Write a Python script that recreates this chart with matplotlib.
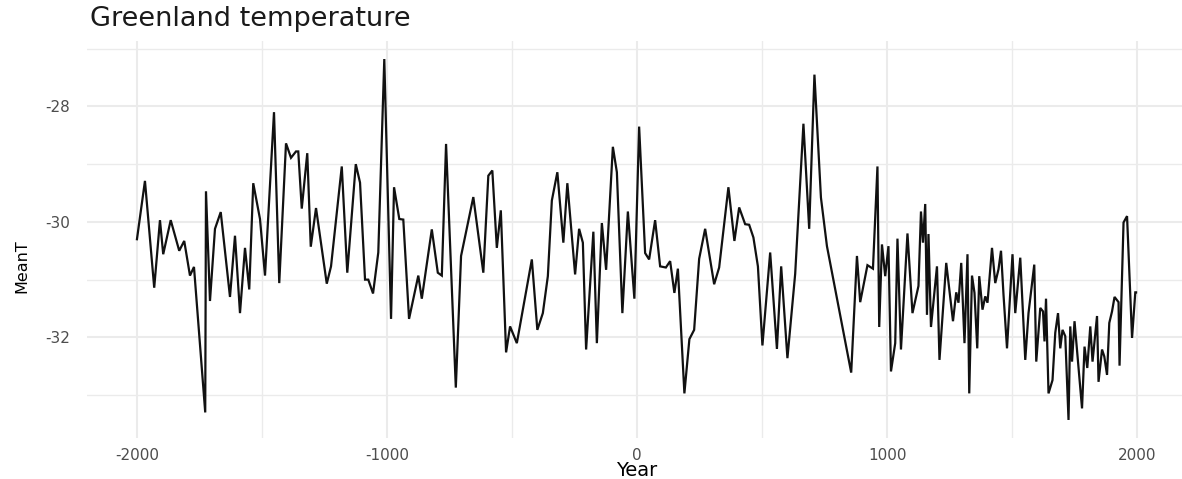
import matplotlib
matplotlib.use("Agg")
import matplotlib.pyplot as plt
from matplotlib.ticker import MultipleLocator
import numpy as np

years = [-2000, -1968, -1931, -1908, -1895, -1865, -1831, -1811, -1788, -1772,
         -1727, -1724, -1708, -1688, -1665, -1628, -1608, -1588, -1568, -1551,
         -1535, -1508, -1488, -1452, -1431, -1404, -1384, -1364, -1355, -1341,
         -1319, -1305, -1284, -1241, -1224, -1181, -1159, -1125, -1108, -1088,
         -1075, -1056, -1035, -1011, -984, -972, -951, -935, -912, -875,
         -861, -821, -797, -781, -764, -725, -704, -655, -615, -595,
         -579, -561, -545, -524, -508, -481, -421, -399, -377, -357,
         -341, -319, -295, -279, -248, -232, -217, -204, -175, -161,
         -141, -124, -97, -81, -59, -37, -11, 8, 32, 48,
         72, 92, 115, 132, 149, 163, 189, 209, 228, 248,
         272, 308, 328, 365, 389, 408, 432, 448, 465, 483,
         501, 532, 559, 576, 601, 632, 665, 688, 709, 735,
         759, 856, 879, 892, 921, 943, 961, 968, 979, 992,
         1005, 1015, 1032, 1041, 1055, 1081, 1101, 1125, 1135, 1143,
         1152, 1159, 1165, 1175, 1199, 1209, 1236, 1263, 1276, 1285,
         1296, 1309, 1321, 1328, 1339, 1349, 1360, 1368, 1381, 1392,
         1401, 1419, 1432, 1445, 1455, 1465, 1479, 1501, 1512, 1532,
         1552, 1565, 1588, 1596, 1612, 1623, 1629, 1635, 1645, 1661,
         1672, 1683, 1692, 1701, 1712, 1725, 1732, 1739, 1749, 1779,
         1789, 1800, 1812, 1821, 1839, 1845, 1859, 1868, 1879, 1888,
         1899, 1909, 1925, 1929, 1945, 1959, 1979, 1992, 1995]

mean_t = [-30.30, -29.29, -31.14, -29.97, -30.56, -29.97, -30.50, -30.33, -30.93, -30.78,
          -33.30, -29.47, -31.37, -30.12, -29.83, -31.30, -30.24, -31.58, -30.45, -31.17,
          -29.33, -29.95, -30.93, -28.10, -31.06, -28.64, -28.89, -28.78, -28.78, -29.77,
          -28.81, -30.43, -29.76, -31.07, -30.77, -29.04, -30.88, -29.00, -29.32, -31.00,
          -31.00, -31.24, -30.53, -27.18, -31.68, -29.40, -29.95, -29.96, -31.68, -30.93,
          -31.33, -30.13, -30.88, -30.93, -28.65, -32.87, -30.59, -29.57, -30.88, -29.20,
          -29.11, -30.45, -29.80, -32.26, -31.81, -32.10, -30.65, -31.87, -31.58, -30.94,
          -29.63, -29.14, -30.36, -29.33, -30.91, -30.12, -30.36, -32.21, -30.17, -32.10,
          -30.02, -30.83, -28.70, -29.14, -31.58, -29.82, -31.33, -28.35, -30.54, -30.65,
          -29.97, -30.77, -30.79, -30.68, -31.23, -30.81, -32.97, -32.03, -31.87, -30.64,
          -30.12, -31.08, -30.79, -29.40, -30.33, -29.75, -30.04, -30.05, -30.27, -30.77,
          -32.14, -30.53, -32.20, -30.77, -32.36, -30.90, -28.30, -30.12, -27.45, -29.58,
          -30.42, -32.61, -30.59, -31.39, -30.75, -30.81, -29.04, -31.82, -30.39, -30.94,
          -30.42, -32.59, -32.10, -30.29, -32.21, -30.20, -31.58, -31.11, -29.82, -30.36,
          -29.69, -31.61, -30.21, -31.82, -30.77, -32.39, -30.71, -31.72, -31.22, -31.40,
          -30.71, -32.10, -30.56, -32.97, -30.93, -31.23, -32.19, -30.94, -31.52, -31.29,
          -31.40, -30.45, -31.06, -30.82, -30.50, -31.26, -32.19, -30.56, -31.58, -30.62,
          -32.39, -31.58, -30.74, -32.42, -31.49, -31.55, -32.07, -31.33, -32.97, -32.74,
          -31.92, -31.58, -32.19, -31.87, -31.98, -33.43, -31.81, -32.42, -31.72, -33.23,
          -32.16, -32.53, -31.81, -32.42, -31.63, -32.77, -32.21, -32.33, -32.65, -31.75,
          -31.55, -31.30, -31.39, -32.49, -30.01, -29.90, -32.01, -31.22, -31.22]

x_ticks = [-2000, -1000, 0, 1000, 2000]
y_ticks = [-32, -30, -28]

W, H = 1182, 479
fig = plt.figure(figsize=(W / 100, H / 100), dpi=100)
fig.patch.set_facecolor("white")
ax = fig.add_axes([87 / W, 1 - 438 / H, (1186 - 87) / W, (438 - 41) / H])
ax.set_facecolor("white")

ax.plot(years, mean_t, color="#111111", linewidth=1.6, solid_joinstyle="miter", zorder=3)

xr = max(years) - min(years)
yr = max(mean_t) - min(mean_t)
ax.set_xlim(min(years) - 0.05 * xr, max(years) + 0.05 * xr)
ax.set_ylim(min(mean_t) - 0.05 * yr, max(mean_t) + 0.05 * yr)

ax.set_xticks(x_ticks)
ax.set_xticklabels([str(v) for v in x_ticks])
ax.set_yticks(y_ticks)
ax.set_yticklabels([str(v) for v in y_ticks])
ax.xaxis.set_minor_locator(MultipleLocator(1000, offset=500))
ax.yaxis.set_minor_locator(MultipleLocator(2, offset=1))

ax.grid(which="major", color="#EBEBEB", linewidth=1.5, zorder=0)
ax.grid(which="minor", color="#EBEBEB", linewidth=1.0, zorder=0)
ax.set_axisbelow(True)
for s in ax.spines.values():
    s.set_visible(False)
ax.tick_params(which="both", length=0)
ax.tick_params(axis="x", pad=7, labelsize=11, labelcolor="#4D4D4D")
ax.tick_params(axis="y", pad=12, labelsize=11, labelcolor="#4D4D4D")

fig.text(90 / W, 1 - 19 / H, "Greenland temperature", fontsize=19.5,
         ha="left", va="center", color="#1A1A1A")
fig.text((612 + 662) / 2 / W, 1 - 470 / H, "Year", fontsize=14,
         ha="center", va="center", color="black")
fig.text(22 / W, 1 - 266 / H, "MeanT", fontsize=11.5, rotation=90,
         ha="center", va="center", color="black")

fig.savefig("out.png", dpi=100, facecolor="white")
